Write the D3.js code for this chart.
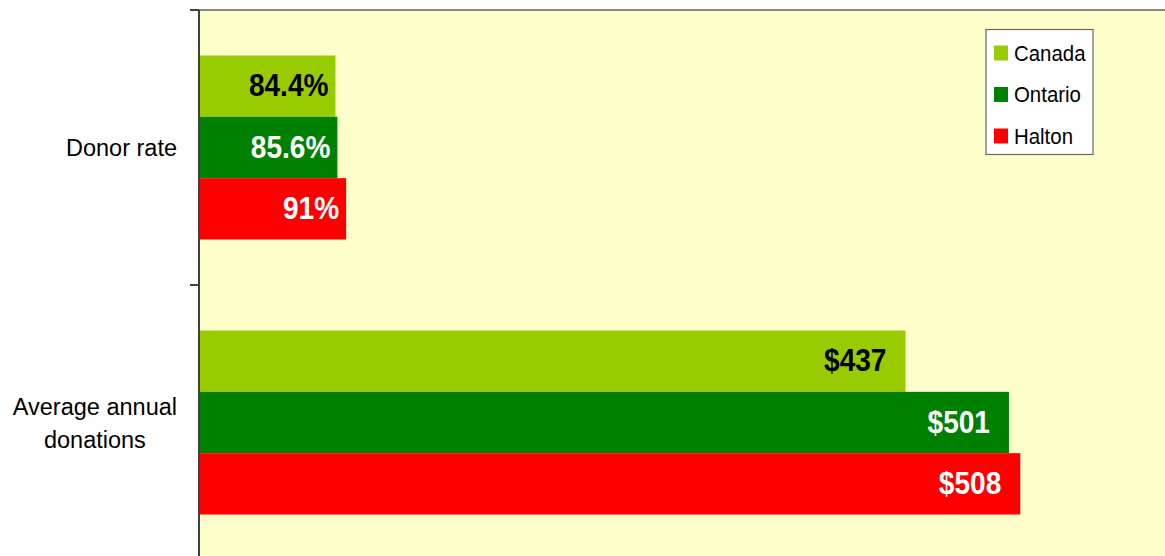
<!DOCTYPE html>
<html>
<head>
<meta charset="utf-8">
<script src="https://cdn.jsdelivr.net/npm/d3@7"></script>
<style>
  html, body { margin: 0; padding: 0; background: #fff; }
  svg { display: block; font-family: "Liberation Sans", Arial, sans-serif; }
</style>
</head>
<body>
<svg id="chart" width="1165" height="556"></svg>
<script>
// Data
const categories = ["Donor rate", "Average annual donations"];
const categoryLines = [["Donor rate"], ["Average annual", "donations"]];
const series = ["Canada", "Ontario", "Halton"];
const donorRate = [84.4, 85.6, 91];
const avgDonations = [437, 501, 508];
const colors = ["#99cc00", "#008000", "#ff0000"];
const labelColors = ["#000", "#fff", "#fff"];

// Layout
const width = 1165, height = 556;
const margin = {left: 199, top: 10};
const plotW = 970, plotH = 550;
const labelPad = [7, 19];

const svg = d3.select("#chart");

const x = d3.scaleLinear().domain([0, 600]).range([margin.left, margin.left + plotW]);
const y = d3.scaleBand().domain(categories).range([margin.top, margin.top + plotH]);
const ySub = d3.scaleBand().domain(series).range([45.5, y.bandwidth() - 45.5]);

const rows = [];
categories.forEach((c, ci) => {
    const vals = ci === 0 ? donorRate : avgDonations;
    series.forEach((s, si) => {
        rows.push({cat: c, ci: ci, s: s, si: si, v: vals[si],
            label: ci === 0 ? vals[si] + "%" : "$" + vals[si]});
    });
});

// plot area
svg.append("rect")
    .attr("x", margin.left)
    .attr("y", margin.top)
    .attr("width", plotW)
    .attr("height", plotH)
    .attr("fill", "#ffffcc")
    .attr("stroke", "#888")
    .attr("stroke-width", 2);

// bars
svg.selectAll("rect.bar")
    .data(rows)
    .enter().append("rect")
    .attr("class", "bar")
    .attr("x", x(0))
    .attr("y", d => y(d.cat) + ySub(d.s))
    .attr("width", d => x(d.v) - x(0))
    .attr("height", ySub.bandwidth())
    .attr("fill", d => colors[d.si]);

// value labels
svg.selectAll("text.val")
    .data(rows)
    .enter().append("text")
    .attr("class", "val")
    .attr("transform", d => `translate(${x(d.v) - labelPad[d.ci]},${y(d.cat) + ySub(d.s) + ySub.bandwidth() / 2 + 10}) scale(0.92,1)`)
    .attr("text-anchor", "end")
    .style("font-size", "30.5px")
    .style("font-weight", "bold")
    .attr("fill", d => labelColors[d.si])
    .text(d => d.label);

// left axis
svg.append("line")
    .attr("x1", margin.left).attr("x2", margin.left)
    .attr("y1", margin.top).attr("y2", margin.top + plotH)
    .attr("stroke", "#404040")
    .attr("stroke-width", 2);

const tickYs = categories.map(c => y(c)).concat([y.range()[1]]);
svg.selectAll("line.tick")
    .data(tickYs)
    .enter().append("line")
    .attr("class", "tick")
    .attr("x1", margin.left - 9).attr("x2", margin.left)
    .attr("y1", d => d).attr("y2", d => d)
    .attr("stroke", "#404040")
    .attr("stroke-width", 2);

// category labels
categories.forEach((c, ci) => {
    const lines = categoryLines[ci];
    const lh = 33;
    const g = svg.append("g");
    const texts = lines.map((l, li) => g.append("text")
        .attr("y", y(c) + y.bandwidth() / 2 + 8.5 - (lines.length - 1) * lh / 2 + li * lh)
        .attr("text-anchor", "middle")
        .style("font-size", "23.5px")
        .attr("fill", "#000")
        .text(l));
    const maxW = d3.max(texts, t => t.node().getComputedTextLength());
    texts.forEach(t => t.attr("x", 177 - maxW / 2));
});

// legend
const legend = svg.append("g").attr("transform", "translate(986,29.5)");
legend.append("rect")
    .attr("width", 107)
    .attr("height", 125)
    .attr("fill", "#fff")
    .attr("stroke", "#666")
    .attr("stroke-width", 1.2);

series.forEach((s, i) => {
    const cy = 23.5 + i * 41.5;
    legend.append("rect")
        .attr("x", 8)
        .attr("y", cy - 7.5)
        .attr("width", 14)
        .attr("height", 15)
        .attr("fill", colors[i]);
    legend.append("text")
        .attr("transform", `translate(28,${cy + 7.5}) scale(0.95,1)`)
        .style("font-size", "21.5px")
        .attr("fill", "#000")
        .text(s);
});
</script>
</body>
</html>
